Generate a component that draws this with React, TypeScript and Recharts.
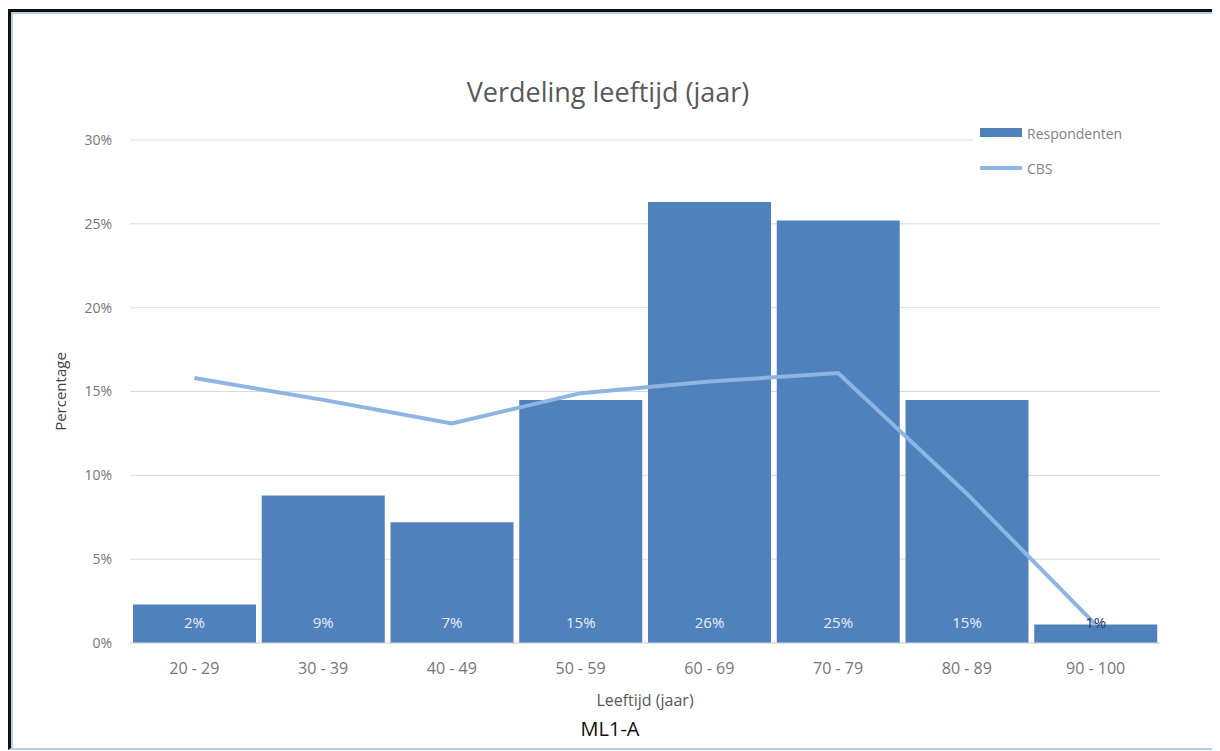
import { ComposedChart, Bar, Line, XAxis, YAxis, CartesianGrid, LabelList } from "recharts";

const categories = ["20 - 29", "30 - 39", "40 - 49", "50 - 59", "60 - 69", "70 - 79", "80 - 89", "90 - 100"];
const respondenten = [2.3, 8.8, 7.2, 14.5, 26.3, 25.2, 14.5, 1.1];
const cbs = [15.8, 14.5, 13.1, 14.9, 15.6, 16.1, 8.9, 1.1];
const yTicks = [0, 5, 10, 15, 20, 25, 30];

const data = categories.map((name, i) => ({ name, respondenten: respondenten[i], cbs: cbs[i] }));

const FONT = "'Open Sans', 'Noto Sans', sans-serif";
const BAR_COLOR = "#4f81bd";
const LINE_COLOR = "#8db4e2";

// Excel "inside base" labels: white on tall bars, dark when the bar is too short
const BarLabel = (props: any) => {
  const { x, y, width, height, value } = props;
  const base = y + height;
  const short = height < 30;
  return (
    <text
      x={x + width / 2}
      y={base - 21}
      textAnchor="middle"
      dominantBaseline="central"
      fontSize={15}
      fontFamily={FONT}
      fill={short ? "#1f3864" : "#e8eef8"}
    >
      {Math.round(value)}%
    </text>
  );
};

const YLabel = (props: any) => {
  const { viewBox } = props;
  const cy = viewBox.y + viewBox.height / 2;
  return (
    <text
      x={49}
      y={cy}
      transform={`rotate(-90, 49, ${cy})`}
      textAnchor="middle"
      dominantBaseline="central"
      fontSize={15}
      fontFamily={FONT}
      fill="#404040"
    >
      Percentage
    </text>
  );
};

export default function App() {
  return (
    <div
      style={{
        marginTop: 1,
        width: 1205,
        height: 736,
        borderTop: "3px solid #111",
        borderLeft: "3px solid #111",
        borderRight: "2px solid #b4cdea",
        borderBottom: "2px solid #b4cdea",
        boxShadow: "inset 2px 2px 0 #b4cdea",
        position: "relative",
        background: "#fff",
        fontFamily: FONT,
      }}
    >
      <div
        style={{
          position: "absolute",
          left: 0,
          width: 1194,
          top: 64,
          textAlign: "center",
          fontSize: 27,
          lineHeight: "32px",
          color: "#595959",
        }}
      >
        Verdeling leeftijd (jaar)
      </div>
      <ComposedChart
        width={1205}
        height={736}
        data={data}
        margin={{ top: 128, right: 56, bottom: 0, left: 0 }}
        barCategoryGap={3}
      >
        <CartesianGrid vertical={false} stroke="#d9d9d9" />
        <XAxis
          dataKey="name"
          height={105}
          tickLine={false}
          axisLine={{ stroke: "#d9d9d9" }}
          tick={{ fontSize: 16, fill: "#767676", fontFamily: FONT }}
          tickMargin={14}
          label={{ value: "Leeftijd (jaar)", position: "insideTop", offset: 52, fontSize: 16, fill: "#595959", fontFamily: FONT }}
        />
        <YAxis
          width={119}
          domain={[0, 30]}
          ticks={yTicks}
          tickFormatter={(v: number) => `${v}%`}
          tickLine={false}
          axisLine={false}
          tickMargin={12}
          tick={{ fontSize: 14, fill: "#767676", fontFamily: FONT }}
          label={<YLabel />}
        />
        <Bar dataKey="respondenten" name="Respondenten" fill={BAR_COLOR} isAnimationActive={false}>
          <LabelList dataKey="respondenten" content={<BarLabel />} />
        </Bar>
        <Line
          dataKey="cbs"
          name="CBS"
          type="linear"
          stroke={LINE_COLOR}
          strokeWidth={4}
          dot={false}
          isAnimationActive={false}
        />
      </ComposedChart>
      <svg style={{ position: "absolute", left: 962, top: 112, zIndex: 2 }} width={200} height={66}>
        <rect x={0} y={0} width={200} height={66} fill="#fff" />
        <rect x={7} y={4} width={42} height={9} fill={BAR_COLOR} />
        <text x={54} y={9} dominantBaseline="central" fontSize={14} fontFamily={FONT} fill="#7f7f7f">
          Respondenten
        </text>
        <line x1={7} y1={44} x2={49} y2={44} stroke={LINE_COLOR} strokeWidth={4} />
        <text x={54} y={44} dominantBaseline="central" fontSize={14} fontFamily={FONT} fill="#7f7f7f">
          CBS
        </text>
      </svg>
      <div
        style={{
          position: "absolute",
          left: 0,
          width: 1198,
          top: 705,
          textAlign: "center",
          fontSize: 20,
          lineHeight: "24px",
          color: "#111",
        }}
      >
        ML1-A
      </div>
    </div>
  );
}
